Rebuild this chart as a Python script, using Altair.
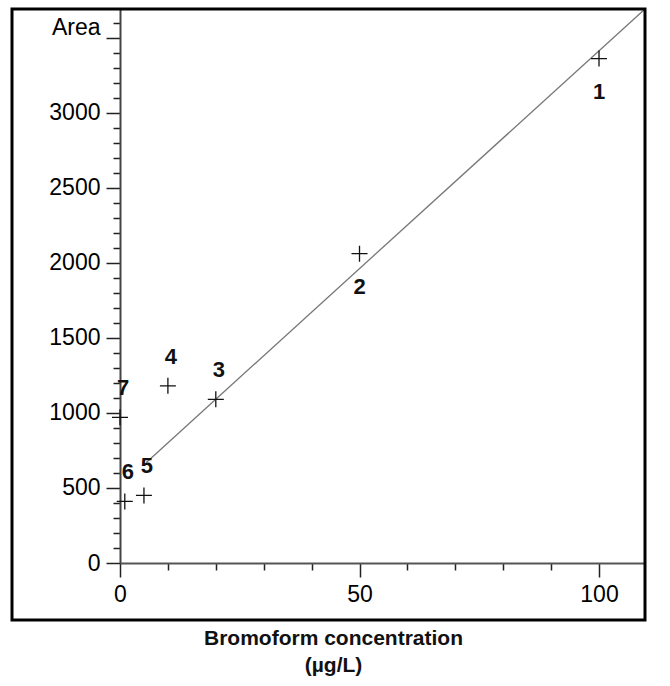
import altair as alt
import pandas as pd

# data
labels = ["1", "2", "3", "4", "5", "6", "7"]
conc = [100, 50, 20, 10, 5, 1, 0]
area = [3360, 2060, 1090, 1180, 450, 410, 970]

fit_x = [5.5, 109.6]
fit_y = [670, 3690]

x_ticks = [0, 10, 20, 30, 40, 50, 60, 70, 80, 90, 100]
y_ticks = list(range(0, 3700, 100))

pts = pd.DataFrame({"label": labels, "conc": conc, "area": area})
fit = pd.DataFrame({"conc": fit_x, "area": fit_y})

FONT = "Liberation Sans"

xscale = alt.Scale(domain=[0, 109.6], nice=False, zero=False)
yscale = alt.Scale(domain=[0, 3690], nice=False, zero=False)

xaxis = alt.Axis(
    values=x_ticks, tickCount=200,
    labelExpr="datum.value % 50 === 0 ? datum.label : ''",
    format="d",
    tickSize={"condition": {"test": "datum.value % 50 === 0", "value": 14}, "value": 7},
    labelPadding=6,
    labelFont=FONT, labelFontSize=23, labelColor="#000",
    domainColor="#555", domainWidth=2, tickColor="#222", tickWidth=1.5,
    grid=False, labelFlush=False, labelOverlap=False,
    title=["Bromoform concentration", "(µg/L)"],
    titleFont=FONT, titleFontSize=21, titleFontWeight="bold", titleColor="#111",
    titleX=213, titleY=64, titleAnchor="middle", titleLineHeight=27,
)
yaxis = alt.Axis(
    values=y_ticks, tickCount=200,
    labelExpr="datum.value === 3500 ? 'Area' : (datum.value % 500 === 0 ? datum.label : '')",
    format="d",
    tickSize={"condition": {"test": "datum.value % 500 === 0", "value": 14}, "value": 7},
    labelOffset={"condition": {"test": "datum.value === 3500", "value": -10}, "value": 0},
    labelPadding=6,
    labelFont=FONT, labelFontSize=23, labelColor="#000",
    domainColor="#444", domainWidth=2, tickColor="#222", tickWidth=1.5,
    grid=False, labelFlush=False, labelOverlap=False,
    title=None,
)

base_pts = alt.Chart(pts)

crosses = base_pts.mark_point(
    shape="M-1,0L1,0M0,-1L0,1", size=256, filled=False, color="#111", strokeWidth=1.3, opacity=1
).encode(
    x=alt.X("conc:Q", scale=xscale, axis=xaxis),
    y=alt.Y("area:Q", scale=yscale, axis=yaxis),
)

lab_above = base_pts.transform_filter(
    alt.FieldOneOfPredicate(field="label", oneOf=["3", "4", "5", "6", "7"])
).mark_text(font=FONT, fontSize=22, fontWeight="bold", color="#111", dy=-29, dx=3).encode(
    x=alt.X("conc:Q", scale=xscale), y=alt.Y("area:Q", scale=yscale), text="label:N"
)
lab_below = base_pts.transform_filter(
    alt.FieldOneOfPredicate(field="label", oneOf=["1", "2"])
).mark_text(font=FONT, fontSize=22, fontWeight="bold", color="#111", dy=33).encode(
    x=alt.X("conc:Q", scale=xscale), y=alt.Y("area:Q", scale=yscale), text="label:N"
)

line = alt.Chart(fit).mark_line(color="#777", strokeWidth=1.3).encode(
    x=alt.X("conc:Q", scale=xscale), y=alt.Y("area:Q", scale=yscale)
)

frame = alt.Chart(pd.DataFrame({"a": [0]})).mark_rect(
    fill=None, stroke="#000", strokeWidth=3, clip=False
).encode(
    x=alt.value(-108), x2=alt.value(525), y=alt.value(0), y2=alt.value(611)
)

chart = alt.layer(line, crosses, lab_above, lab_below, frame).properties(
    width=525, height=554,
    autosize=alt.AutoSizeParams(type="none"),
    padding={"left": 120, "top": 9, "right": 25, "bottom": 123},
    background="white",
).configure_view(stroke=None)

chart.save("out.html", embed_options={"renderer": "svg", "actions": False})
